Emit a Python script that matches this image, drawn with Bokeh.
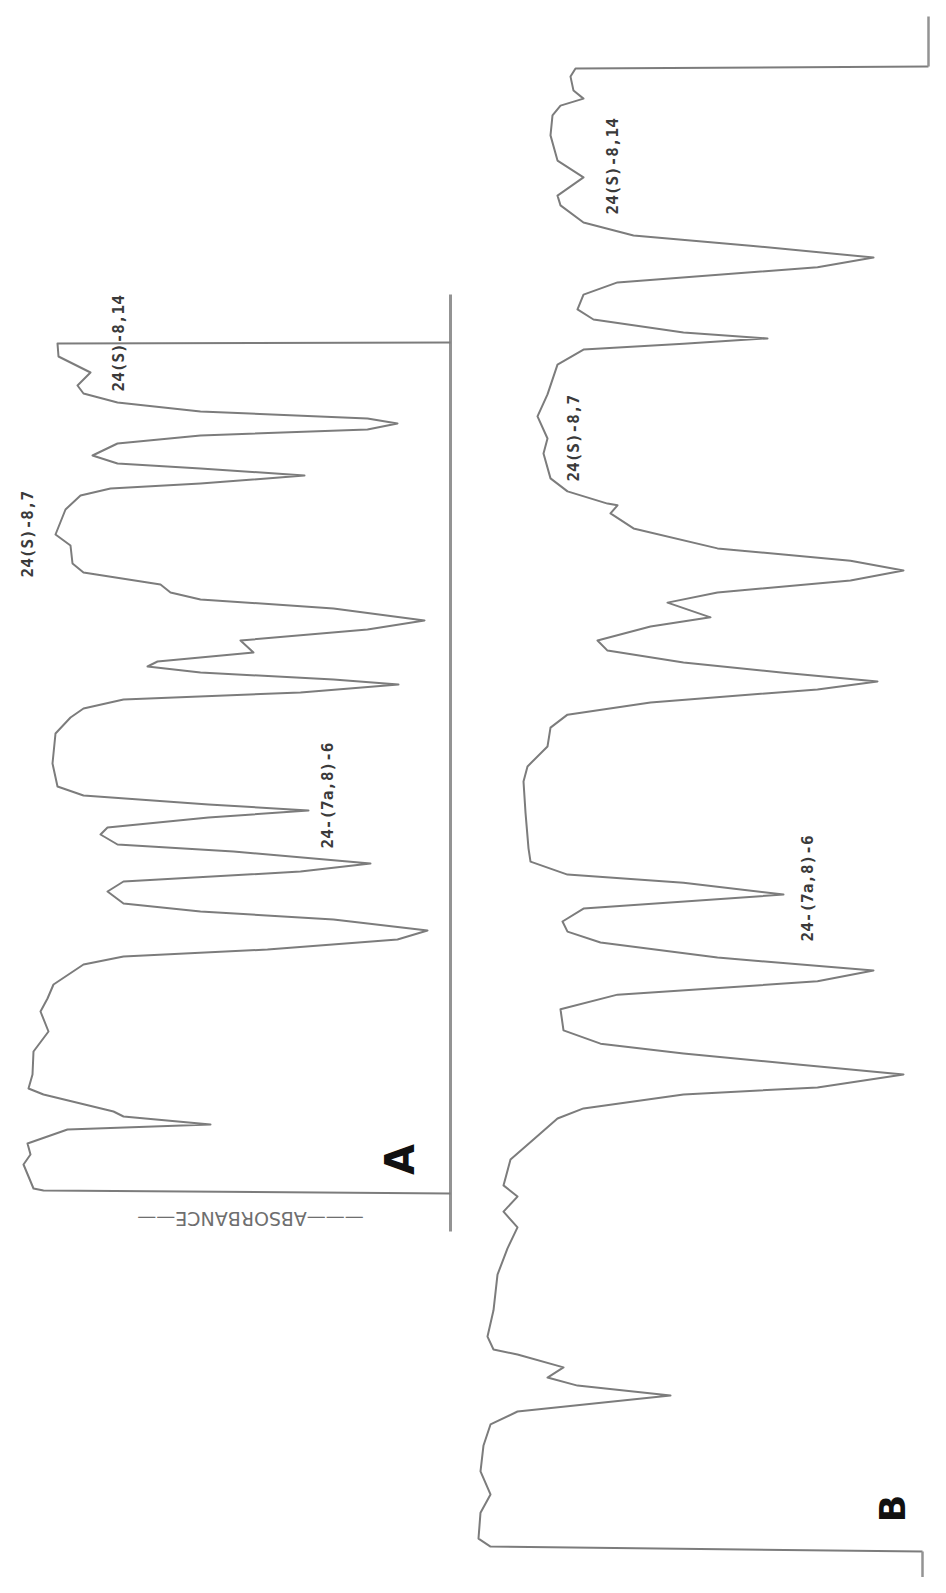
import math
from bokeh.plotting import figure
from bokeh.models import Range1d
from bokeh.core.properties import value
from bokeh.embed import file_html
from bokeh.resources import INLINE

# ---------------- data ----------------
# Chromatogram A: retention time (min) vs absorbance (a.u.)
time_a = [0.0, 0.15, 0.25, 1.45, 1.95, 2.5, 3.2, 3.45, 3.85, 4.1, 4.95, 5.25, 5.95, 7.1, 8.1, 9.1,
          9.75, 10.45, 11.45, 11.85, 12.2, 12.7, 13.15, 13.7, 14.1, 14.5, 15.1, 15.6, 16.1, 16.5,
          17.1, 17.45, 17.95, 18.3, 18.8, 19.15, 19.45, 19.9, 20.35, 21.5, 23.0, 23.8, 24.25, 24.7,
          25.05, 25.45, 25.7, 26.05, 26.35, 26.6, 27.05, 27.65, 28.2, 28.65, 29.25, 29.7, 30.05,
          30.45, 31.05, 31.5, 32.4, 32.95, 34.2, 34.9, 35.25, 35.5, 35.9, 36.25, 36.5, 36.9, 37.5,
          37.9, 38.2, 38.5, 38.75, 39.1, 39.55, 40.0, 40.4, 41.05, 41.85, 42.5, 42.55]
abs_a = [107.5, 5.75, 3.25, 0.75, 2.5, 1.75, 11.75, 47.5, 25.75, 23.25, 5.75, 2.0, 3.0, 3.25, 7.0,
         5.0, 6.75, 8.25, 15.75, 25.75, 61.75, 94.25, 101.75, 78.25, 45.0, 25.75, 21.75, 25.75,
         70.0, 87.5, 53.25, 24.25, 20.0, 21.75, 47.0, 72.0, 47.0, 15.75, 9.25, 8.0, 8.75, 12.5,
         15.75, 25.75, 70.0, 94.5, 78.25, 45.0, 31.75, 34.25, 58.25, 55.0, 86.75, 101.0, 78.25,
         45.0, 37.5, 35.0, 15.75, 13.0, 12.5, 8.75, 11.25, 15.0, 22.5, 45.0, 71.0, 45.0, 24.25,
         18.0, 24.25, 45.0, 86.75, 94.25, 86.75, 45.0, 24.25, 15.75, 14.25, 17.5, 9.5, 9.25, 107.5]

# Chromatogram B
time_b = [0.0, 0.14, 0.37, 1.11, 1.63, 2.29, 3.03, 3.63, 4.0, 4.46,
          4.74, 4.97, 5.26, 5.63, 5.77, 6.14, 6.89, 7.91, 8.66, 9.26,
          9.71, 10.14, 10.46, 11.2, 11.77, 12.37, 12.66, 13.06, 13.26, 13.63,
          13.91, 14.23, 14.51, 14.89, 15.49, 15.91, 16.29, 16.6, 16.97, 17.4,
          17.71, 18.0, 18.37, 18.77, 19.11, 19.34, 19.71, 20.09, 21.11, 22.0,
          22.43, 23.0, 23.54, 23.91, 24.26, 24.63, 24.86, 25.11, 25.4, 25.74,
          26.03, 26.43, 26.69, 27.11, 27.4, 27.74, 28.03, 28.31, 28.66, 29.23,
          29.66, 29.89, 29.94, 30.29, 30.66, 31.37, 31.8, 32.43, 33.06, 33.91,
          34.34, 34.51, 34.66, 34.83, 35.2, 35.49, 35.91, 36.26, 36.69, 36.97,
          37.31, 37.6, 37.97, 38.46, 38.74, 39.26, 39.74, 40.46, 41.03, 41.31,
          41.51, 41.74, 42.14, 42.37, 42.43]
abs_b = [113, 5, 2, 2.5, 5, 2.5, 3.25, 5, 11.75, 50,
         26.75, 19.25, 23.25, 11.75, 5.75, 4.25, 5.75, 6.75, 9.25, 11.75,
         8.25, 11.75, 8.25, 10, 15.75, 21.75, 28.25, 53.25, 86.75, 108.25,
         82.5, 53.25, 32.5, 23.25, 22.5, 36.75, 86.75, 100.75, 61.75, 32.5,
         24.25, 23, 28.25, 78.25, 53.25, 24.25, 15, 14.5, 13.75, 13.25,
         14.25, 19.25, 20, 24.25, 45, 86.75, 101.75, 78.25, 53.25, 34.25,
         31.75, 45, 60, 49.25, 61.75, 95, 108.25, 95, 61.75, 40.75,
         35, 36.75, 34.25, 24.25, 20, 18.25, 19.25, 16.75, 19.25, 21.75,
         28.25, 53.25, 74.25, 53.25, 30.75, 26.75, 28.25, 36.75, 86.75, 100.75,
         70, 40.75, 28.25, 22.5, 21.75, 28.25, 21.75, 20, 20.5, 22.5,
         28.25, 25.75, 25, 26.25, 114.5]

# recorder axis / pen marks
axis_a_time = [-1.9, 44.95]
axis_a_abs = [107.5, 107.5]
mark_b_start_time = [0.0, -1.2]
mark_b_start_abs = [113, 113]
mark_b_end_time = [42.43, 43.86]
mark_b_end_abs = [114.5, 114.5]

peak_labels = ["24(S)-8,14", "24(S)-8,7", "24-(7a,8)-6"]
label_time_a = [40.1, 30.8, 17.25]
label_abs_a = [24.5, 1.75, 76.75]
label_time_b = [38.2, 30.57, 17.43]
label_abs_b = [35.5, 25.75, 84.25]

panel_names = ["A", "B"]
axis_title = "———ABSORBANCE——"

# ---------------- figure ----------------
p = figure(width=930, height=1577, output_backend="svg", toolbar_location=None,
           x_axis_location=None, y_axis_location=None, min_border=0,
           x_range=Range1d(-5, 227.5), y_range=Range1d(-19.2, 59.65))
p.extra_x_ranges = {"b": Range1d(-117.5, 115)}
p.extra_y_ranges = {"b": Range1d(-0.743, 44.314)}
p.outline_line_color = None
p.xgrid.visible = False
p.ygrid.visible = False
p.background_fill_color = "white"

trace_color = "#7c7c7c"
axis_color = "#939393"

# axis line of A
p.line(axis_a_abs, axis_a_time, line_color=axis_color, line_width=3)
# traces
p.line(abs_a, time_a, line_color=trace_color, line_width=2, line_join="round")
p.line(abs_b, time_b, line_color=trace_color, line_width=2, line_join="round",
       x_range_name="b", y_range_name="b")
p.line(mark_b_start_abs, mark_b_start_time, line_color=axis_color, line_width=2.5,
       x_range_name="b", y_range_name="b")
p.line(mark_b_end_abs, mark_b_end_time, line_color=axis_color, line_width=2.5,
       x_range_name="b", y_range_name="b")

label_font = value("DejaVu Sans Mono")
p.text(x=label_abs_a, y=label_time_a, text=peak_labels, angle=math.pi / 2,
       text_align="left", text_baseline="middle", text_font=label_font,
       text_font_size="16px", text_font_style="bold", text_color="#3a3a3a")
p.text(x=label_abs_b, y=label_time_b, text=peak_labels, angle=math.pi / 2,
       text_align="left", text_baseline="middle", text_font=label_font,
       text_font_size="16px", text_font_style="bold", text_color="#3a3a3a",
       x_range_name="b", y_range_name="b")

# panel letters
p.text(x=[94.75], y=[1.7], text=[panel_names[0]], angle=math.pi / 2,
       text_align="center", text_baseline="middle", text_font=value("DejaVu Sans"),
       text_font_size="40px", text_font_style="bold", text_color="#111111")
p.text(x=[105.5], y=[1.23], text=[panel_names[1]], angle=math.pi / 2,
       text_align="center", text_baseline="middle", text_font=value("DejaVu Sans"),
       text_font_size="36px", text_font_style="bold", text_color="#111111",
       x_range_name="b", y_range_name="b")

# absorbance title
p.text(x=[57.5], y=[-1.25], text=[axis_title], angle=math.pi,
       text_align="center", text_baseline="middle", text_font=value("DejaVu Sans"),
       text_font_size="19px", text_color="#6e6e6e")

open("out.html", "w").write(file_html(p, INLINE))
